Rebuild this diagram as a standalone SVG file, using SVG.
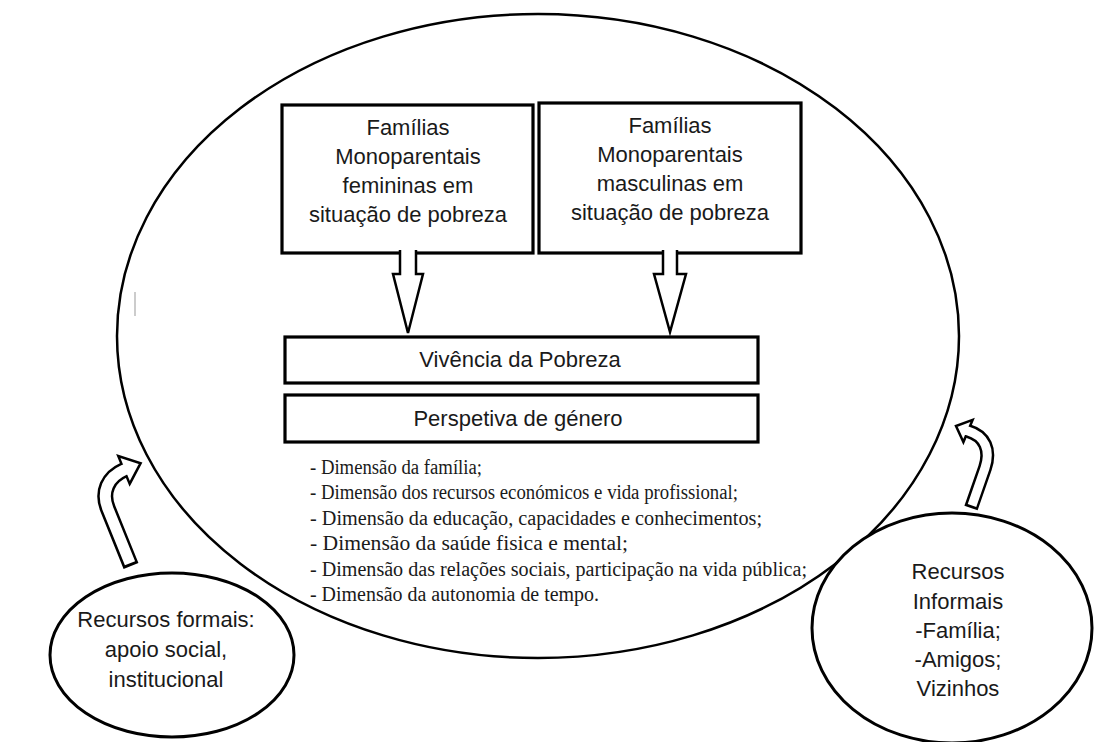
<svg xmlns="http://www.w3.org/2000/svg" width="1096" height="742" viewBox="0 0 1096 742">
<style>
.bg{fill:#fff}
.box{fill:#fff;stroke:#000;stroke-width:3.2}
.ell{fill:#fff;stroke:#000;stroke-width:3}
.big{fill:none;stroke:#000;stroke-width:2.5}
.arr{fill:#fff;stroke:#000;stroke-width:2.5;stroke-linejoin:miter}
.t{font-family:"Liberation Sans",Arial,sans-serif;font-size:22px;fill:#1a1a1a;text-anchor:middle}
.s{font-family:"Liberation Serif","Times New Roman",serif;font-size:20px;fill:#1a1a1a}
</style>
<rect class="bg" x="0" y="0" width="1096" height="742"/>
<g id="main-circle">
<ellipse class="big" cx="538" cy="336" rx="421" ry="322"/>
<line x1="135" y1="292" x2="135" y2="316" stroke="#999" stroke-width="1"/>
</g>
<g id="box-femininas">
<rect class="box" x="282" y="105" width="251" height="148"/>
<text class="t" x="408" y="135">Famílias</text>
<text class="t" x="408" y="164">Monoparentais</text>
<text class="t" x="408" y="193">femininas em</text>
<text class="t" x="408" y="222">situação de pobreza</text>
</g>
<g id="box-masculinas">
<rect class="box" x="539" y="103" width="262" height="150"/>
<text class="t" x="670" y="133">Famílias</text>
<text class="t" x="670" y="162">Monoparentais</text>
<text class="t" x="670" y="191">masculinas em</text>
<text class="t" x="670" y="220">situação de pobreza</text>
</g>
<g id="box-vivencia">
<rect class="box" x="285" y="337" width="473" height="46"/>
<text class="t" x="520" y="367">Vivência da Pobreza</text>
</g>
<g id="box-perspetiva">
<rect class="box" x="285" y="395" width="473" height="47"/>
<text class="t" x="518" y="426">Perspetiva de género</text>
</g>
<g id="dimensoes">
<text class="s" x="310" y="474" textLength="172" lengthAdjust="spacingAndGlyphs">- Dimensão da família;</text>
<text class="s" x="310" y="499.4" textLength="428" lengthAdjust="spacingAndGlyphs">- Dimensão dos recursos económicos e vida profissional;</text>
<text class="s" x="310" y="524.8" textLength="452" lengthAdjust="spacingAndGlyphs">- Dimensão da educação, capacidades e conhecimentos;</text>
<text class="s" x="310" y="550.2" textLength="318" lengthAdjust="spacingAndGlyphs">- Dimensão da saúde fisica e mental;</text>
<text class="s" x="310" y="575.6" textLength="497" lengthAdjust="spacingAndGlyphs">- Dimensão das relações sociais, participação na vida pública;</text>
<text class="s" x="310" y="601" textLength="289" lengthAdjust="spacingAndGlyphs">- Dimensão da autonomia de tempo.</text>
</g>
<g id="recursos-formais">
<ellipse class="ell" cx="172" cy="655" rx="122" ry="82"/>
<text class="t" x="166" y="627">Recursos formais:</text>
<text class="t" x="166" y="657">apoio social,</text>
<text class="t" x="166" y="687">institucional</text>
</g>
<g id="recursos-informais">
<ellipse class="ell" cx="952" cy="628" rx="140" ry="115"/>
<text class="t" x="958" y="579">Recursos</text>
<text class="t" x="958" y="609">Informais</text>
<text class="t" x="958" y="638">-Família;</text>
<text class="t" x="958" y="667">-Amigos;</text>
<text class="t" x="958" y="696">Vizinhos</text>
</g>
<g id="connectors">
<path class="arr" d="M400,250 L400,274 L393,274 L408,333 L423,274 L416,274 L416,250"/>
<path class="arr" d="M663,250 L663,274 L654,274 L670,332 L686,274 L677,274 L677,250"/>
<g id="arrow-formais">
<path d="M131,566 L108,509 C101,492 108,477 124,470" fill="none" stroke="#000" stroke-width="16"/>
<polygon class="arr" points="129.7,483.9 140.6,463.2 118.3,456.1"/>
<path d="M130,563.2 L108,509 C101,492 108,477 124,470 L127,468.8" fill="none" stroke="#fff" stroke-width="11"/>
</g>
<g id="arrow-informais">
<path d="M971,508 L985,468 C991,450 985,436 968,431" fill="none" stroke="#000" stroke-width="14"/>
<polygon class="arr" points="972.6,419.9 956,426 963.4,442.1"/>
<path d="M972,505.4 L985,468 C991,450 985,436 968,431 L965.5,430.3" fill="none" stroke="#fff" stroke-width="9"/>
</g>
</g>
</svg>
